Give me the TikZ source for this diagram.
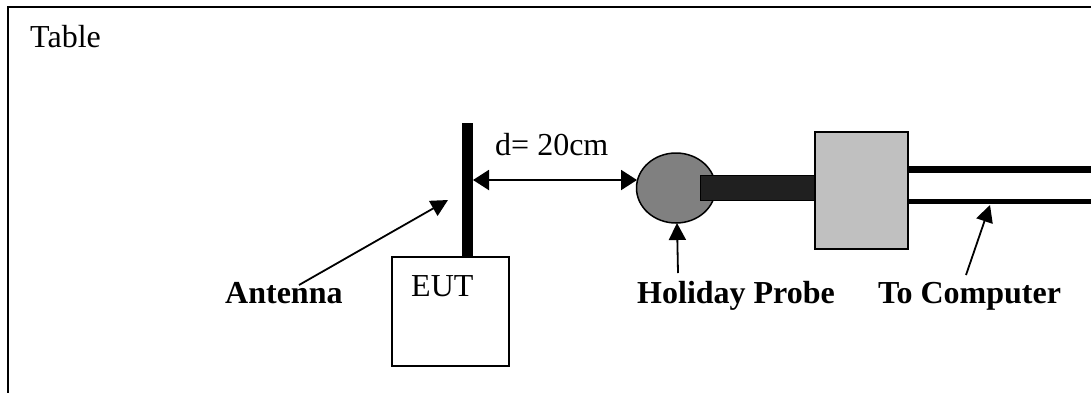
\documentclass[tikz,border=0pt]{standalone}
\usepackage{fontspec}
\setmainfont{Liberation Serif}
\usetikzlibrary{arrows.meta,shapes.geometric}
\begin{document}
\begin{tikzpicture}[x=1pt,y=-1pt,
  lbl/.style={inner sep=0pt,anchor=base west,font=\fontsize{32}{37}\selectfont},
  blbl/.style={lbl,font=\fontsize{32}{37}\selectfont\bfseries},
  ptr/.style={line width=1.8pt,-{Triangle[length=17pt,width=17pt]}},
  dim/.style={line width=2pt,{Triangle[length=16pt,width=20pt]}-{Triangle[length=16pt,width=20pt]}}]
\useasboundingbox (0,0) rectangle (1091,392);
\clip (0,0) rectangle (1091,392);
% table frame
\draw[line width=2pt] (8,420) -- (8,7) -- (1110,7);
\node[lbl] (table) at (30,47) {Table};
% EUT and antenna
\node[draw,line width=1.5pt,minimum width=117pt,minimum height=109pt,inner sep=0pt,anchor=north west] (eut) at (391,256) {};
\node[lbl] (eutlbl) at (411,296) {EUT};
\node[fill=black,minimum width=11pt,minimum height=134pt,inner sep=0pt,anchor=north west] (pole) at (462,123) {};
% probe
\node[ellipse,draw,line width=1.5pt,fill={rgb,255:red,128;green,128;blue,128},minimum width=79pt,minimum height=70pt,inner sep=0pt] (probe) at (676,188) {};
\node[draw,line width=1.2pt,fill={rgb,255:red,32;green,32;blue,32},minimum width=114pt,minimum height=25pt,inner sep=0pt,anchor=north west] (rod) at (700,175) {};
\node[draw,line width=1.5pt,fill={rgb,255:red,192;green,192;blue,192},minimum width=93pt,minimum height=117pt,inner sep=0pt,anchor=north west] (box) at (814,131) {};
% cables
\coordinate (c1a) at (907,169.5);
\coordinate (c1b) at (1110,169.5);
\coordinate (c2a) at (907,201.5);
\coordinate (c2b) at (1110,201.5);
\draw[line width=7pt] (c1a) -- (c1b);
\draw[line width=5.5pt] (c2a) -- (c2b);
% distance
\coordinate (dl) at (473,180);
\coordinate (dr) at (637,180);
\draw[dim] (dl) -- (dr);
\node[lbl] (dlbl) at (495,155) {d= 20cm};
% labels
\node[blbl] (antlbl) at (225,303) {Antenna};
\node[blbl] (hplbl) at (637,303) {Holiday Probe};
\node[blbl] (tclbl) at (878,303) {To Computer};
\coordinate (a1) at (299,285);
\coordinate (a2) at (448,200);
\draw[ptr] (a1) -- (a2);
\coordinate (h1) at (678,273);
\coordinate (h2) at (677,223);
\draw[ptr] (h1) -- (h2);
\coordinate (t1) at (966,275);
\coordinate (t2) at (990,205);
\draw[ptr] (t1) -- (t2);
\end{tikzpicture}
\end{document}
